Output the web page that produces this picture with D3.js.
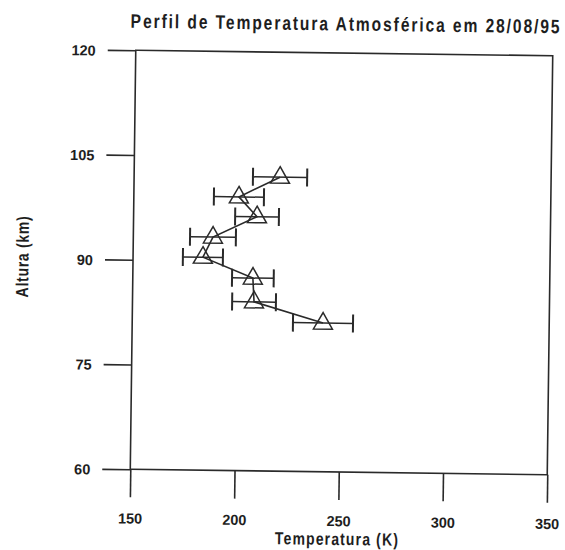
<!DOCTYPE html>
<html>
<head>
<meta charset="utf-8">
<script src="https://cdn.jsdelivr.net/npm/d3@7"></script>
<style>
  html, body { margin: 0; padding: 0; background: #fff; }
  svg { display: block; }
  text { font-family: "Liberation Sans", Arial, sans-serif; font-weight: bold; fill: #1e1e1e; }
</style>
</head>
<body>
<svg id="chart" width="565" height="550"></svg>
<script>
// ---- data ----
const temperatures = [220.0, 200.4, 209.2, 188.2, 183.5, 207.6, 208.3, 241.5]; // K
const altitudes    = [102.1, 99.2, 96.4, 93.4, 90.5, 87.6, 84.2, 81.3];       // km
const tempErrors   = [13.0, 12.0, 10.5, 11.0, 9.6, 10.0, 10.5, 14.4];        // K
const xTicks = [150, 200, 250, 300, 350];
const yTicks = [60, 75, 90, 105, 120];
const titleText = "Perfil de Temperatura Atmosférica em 28/08/95";
const xLabel = "Temperatura (K)";
const yLabel = "Altura (km)";

// ---- layout ----
const plotLeft = 133, plotRight = 550, plotTop = 53, plotBottom = 472;
const ink = "#2a2a2a";

const svg = d3.select("#chart");
svg.append("rect").attr("width", 565).attr("height", 550).attr("fill", "#fff");

// scanned page is slightly rotated
const g = svg.append("g").attr("transform", "rotate(0.75, 341.5, 262.5)");

const x = d3.scaleLinear().domain([150, 350]).range([plotLeft, plotRight]);
const y = d3.scaleLinear().domain([60, 120]).range([plotBottom, plotTop]);

// frame
g.append("rect")
  .attr("x", plotLeft).attr("y", plotTop)
  .attr("width", plotRight - plotLeft).attr("height", plotBottom - plotTop)
  .attr("fill", "none").attr("stroke", ink).attr("stroke-width", 1.6);

// axes
const xAxis = d3.axisBottom(x).tickValues(xTicks).tickSize(28).tickSizeOuter(0).tickPadding(16)
  .tickFormat(d3.format("d"));
const yAxis = d3.axisLeft(y).tickValues(yTicks).tickSize(28).tickSizeOuter(0).tickPadding(12)
  .tickFormat(d3.format("d"));

const gx = g.append("g").attr("transform", `translate(0,${plotBottom})`).call(xAxis);
const gy = g.append("g").attr("transform", `translate(${plotLeft},0)`).call(yAxis);
[gx, gy].forEach(a => {
  a.select(".domain").remove();
  a.selectAll(".tick line").attr("stroke", ink).attr("stroke-width", 1.6);
  a.selectAll(".tick text")
    .attr("font-family", "Liberation Sans, Arial, sans-serif")
    .attr("font-weight", "bold")
    .attr("font-size", 14.5)
    .attr("fill", "#1e1e1e");
});
gy.selectAll(".tick text").attr("dy", "0.36em");

// condensed, letter-spaced text helper (scanned plotter font)
function label(parent, str, cx, cy, size, width, sx, rot) {
  return parent.append("g")
    .attr("transform", `translate(${cx},${cy}) rotate(${rot}) scale(${sx},1)`)
    .append("text")
    .attr("x", 0).attr("y", 0)
    .attr("text-anchor", "middle")
    .attr("font-size", size)
    .attr("textLength", width / sx).attr("lengthAdjust", "spacing")
    .text(str);
}

label(g, titleText, 342, 30.5, 19.5, 429, 0.8, 0);
label(g, xLabel, 340, 545, 17.5, 123, 0.8, 0);
label(g, yLabel, 28.5, 261, 17.5, 81, 0.8, -90);

// data
const pts = temperatures.map((t, i) => ({ t, a: altitudes[i], e: tempErrors[i] }));

// error bars
const eb = g.append("g").attr("stroke", ink);
eb.selectAll("line.h").data(pts).join("line")
  .attr("class", "h")
  .attr("x1", d => x(d.t - d.e)).attr("x2", d => x(d.t + d.e))
  .attr("y1", d => y(d.a)).attr("y2", d => y(d.a))
  .attr("stroke-width", 1.5);
eb.selectAll("line.cl").data(pts).join("line")
  .attr("class", "cl")
  .attr("x1", d => x(d.t - d.e)).attr("x2", d => x(d.t - d.e))
  .attr("y1", d => y(d.a) - 9).attr("y2", d => y(d.a) + 9)
  .attr("stroke-width", 2);
eb.selectAll("line.cr").data(pts).join("line")
  .attr("class", "cr")
  .attr("x1", d => x(d.t + d.e)).attr("x2", d => x(d.t + d.e))
  .attr("y1", d => y(d.a) - 9).attr("y2", d => y(d.a) + 9)
  .attr("stroke-width", 2);

// connecting line
g.append("path")
  .datum(pts)
  .attr("fill", "none").attr("stroke", ink).attr("stroke-width", 1.6)
  .attr("d", d3.line().x(d => x(d.t)).y(d => y(d.a)));

// open triangle markers
g.append("g").selectAll("path").data(pts).join("path")
  .attr("transform", d => `translate(${x(d.t)},${y(d.a)})`)
  .attr("d", "M0,-10.5L9.5,6L-9.5,6Z")
  .attr("fill", "none").attr("stroke", ink).attr("stroke-width", 1.5);
</script>
</body>
</html>
